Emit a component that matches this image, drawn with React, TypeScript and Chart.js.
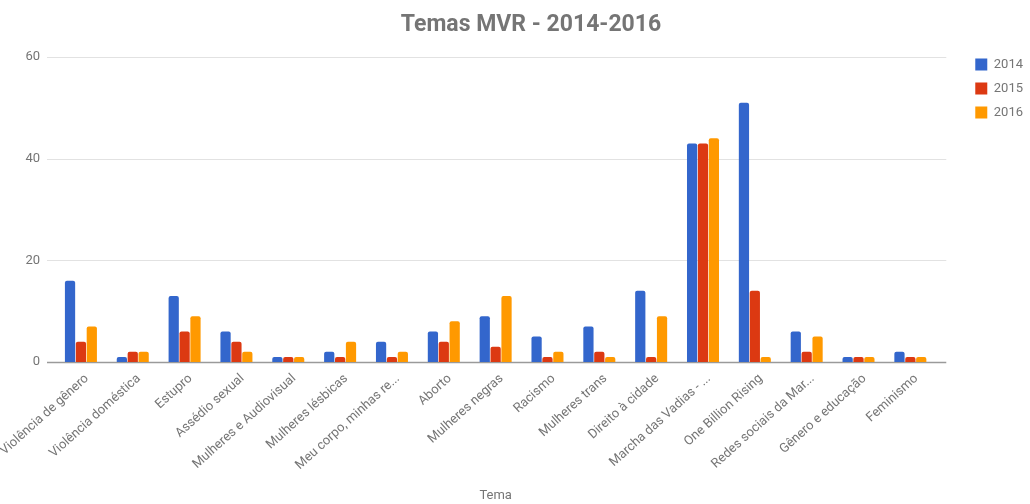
import React, { useEffect, useRef } from 'react';
import { Chart, registerables } from 'chart.js';

Chart.register(...registerables);

const TITLE = 'Temas MVR - 2014-2016';
const AXIS_TITLE = 'Tema';
const categories = [
  'Violência de gênero',
  'Violência doméstica',
  'Estupro',
  'Assédio sexual',
  'Mulheres e Audiovisual',
  'Mulheres lésbicas',
  'Meu corpo, minhas re...',
  'Aborto',
  'Mulheres negras',
  'Racismo',
  'Mulheres trans',
  'Direito à cidade',
  'Marcha das Vadias - ...',
  'One Billion Rising',
  'Redes sociais da Mar...',
  'Gênero e educação',
  'Feminismo',
];
const seriesNames = ['2014', '2015', '2016'];
const values2014 = [16, 1, 13, 6, 1, 2, 4, 6, 9, 5, 7, 14, 43, 51, 6, 1, 2];
const values2015 = [4, 2, 6, 4, 1, 1, 1, 4, 3, 1, 2, 1, 43, 14, 2, 1, 1];
const values2016 = [7, 2, 9, 2, 1, 4, 2, 8, 13, 2, 1, 9, 44, 1, 5, 1, 1];
const yMax = 60;
const yStep = 20;

const COLORS = ['#3366cc', '#dc3912', '#ff9900'];
const TEXT = '#757575';

const gridPlugin = {
  id: 'extGrid',
  beforeDatasetsDraw(chart: any) {
    const { ctx, chartArea } = chart;
    const y = chart.scales.y;
    ctx.save();
    y.ticks.forEach((t: any) => {
      const py = Math.round(y.getPixelForValue(t.value)) + 0.5;
      ctx.beginPath();
      ctx.strokeStyle = t.value === 0 ? '#9a9a9a' : '#e2e2e2';
      ctx.lineWidth = t.value === 0 ? 1.6 : 1.2;
      ctx.moveTo(chartArea.left - 8, py);
      ctx.lineTo(chartArea.right + 10, py);
      ctx.stroke();
    });
    ctx.restore();
  },
};

const titlePlugin = {
  id: 'customTitle',
  afterDraw(chart: any) {
    const { ctx } = chart;
    ctx.save();
    ctx.font = 'bold 23px Roboto';
    ctx.fillStyle = TEXT;
    ctx.textAlign = 'center';
    ctx.textBaseline = 'middle';
    ctx.fillText(TITLE, chart.width / 2 + 16, 25);
    ctx.restore();
  },
};

export default function App() {
  const ref = useRef<HTMLCanvasElement>(null);
  useEffect(() => {
    if (!ref.current) return;
    Chart.defaults.font.family = 'Roboto';
    const data = [values2014, values2015, values2016];
    const chart = new Chart(ref.current, {
      type: 'bar',
      data: {
        labels: categories,
        datasets: seriesNames.map((name, i) => ({
          label: name,
          data: data[i],
          backgroundColor: COLORS[i],
          borderWidth: 0,
          borderRadius: { topLeft: 2, topRight: 2, bottomLeft: 0, bottomRight: 0 },
          borderSkipped: 'bottom',
          categoryPercentage: 0.63,
          barPercentage: 0.94,
        })),
      },
      options: {
        animation: false,
        responsive: false,
        layout: { padding: { top: 47, left: 0, right: -3, bottom: 0 } },
        plugins: {
          title: { display: false },
          tooltip: { enabled: false },
          legend: {
            position: 'right',
            align: 'start',
            labels: {
              boxWidth: 12,
              boxHeight: 12,
              padding: 11,
              color: TEXT,
              font: { size: 13, family: 'Roboto' },
            },
          },
        },
        scales: {
          x: {
            grid: { display: false },
            border: { display: false },
            ticks: {
              color: TEXT,
              font: { size: 13, family: 'Roboto' },
              minRotation: 42,
              maxRotation: 42,
              autoSkip: false,
              padding: 1,
              labelOffset: 6,
            },
            title: {
              display: true,
              text: AXIS_TITLE,
              color: TEXT,
              font: { size: 13, family: 'Roboto' },
              padding: { top: 0, bottom: 0 },
            },
            afterFit(s: any) {
              s.height = 142;
              s.paddingLeft = 0;
              s.paddingRight = 0;
            },
          },
          y: {
            min: 0,
            max: yMax,
            grid: { display: false },
            border: { display: false },
            ticks: {
              stepSize: yStep,
              color: TEXT,
              font: { size: 13, family: 'Roboto' },
              padding: 7,
            },
            afterFit(s: any) {
              s.width = 55;
              s.paddingTop = 57;
            },
          },
          yRight: {
            type: 'linear',
            position: 'right',
            display: true,
            grid: { display: false },
            border: { display: false },
            ticks: { display: false },
            afterFit(s: any) {
              s.width = 28;
            },
          },
        },
      },
      plugins: [gridPlugin, titlePlugin],
    } as any);
    return () => chart.destroy();
  }, []);
  return (
    <div style={{ position: 'absolute', left: 0, top: 0, width: 1030, height: 504 }}>
      <canvas ref={ref} width={1030} height={504} />
    </div>
  );
}
